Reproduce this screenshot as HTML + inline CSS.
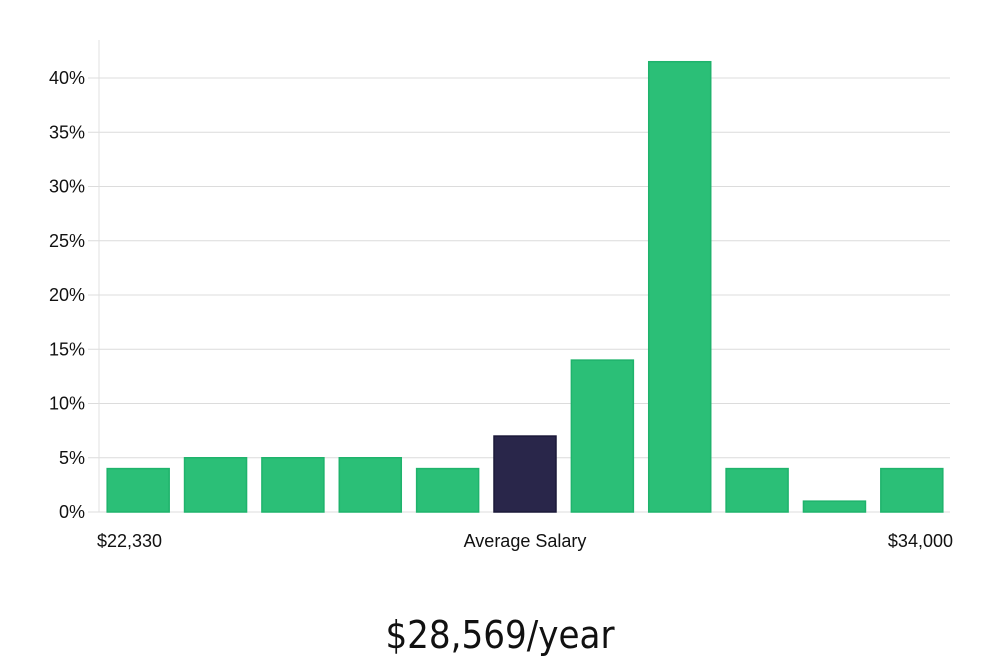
<!DOCTYPE html>
<html><head><meta charset="utf-8"><style>
body{margin:0;background:#fff;width:1000px;height:660px;overflow:hidden;font-family:"Liberation Sans","DejaVu Sans",sans-serif}
</style></head><body>
<svg id="chart" width="1000" height="660" xmlns="http://www.w3.org/2000/svg"></svg>
<script>
const categories=["b1","b2","b3","b4","b5","avg","b7","b8","b9","b10","b11"];
const values=[4,5,5,5,4,7,14,41.5,4,1,4];
const highlight=[false,false,false,false,false,true,false,false,false,false,false];
const yTicks=[0,5,10,15,20,25,30,35,40];
const xLabels=["$22,330","Average Salary","$34,000"];
const title="$28,569/year";
const NS="http://www.w3.org/2000/svg";
const svg=document.getElementById('chart');
const x0=99,x1=950,y0=512,pxPer=(512-78)/40;
const y=v=>y0-v*pxPer;
const band=(x1-x0)/categories.length;
function mk(t,a,p){const e=document.createElementNS(NS,t);for(const k in a)e.setAttribute(k,a[k]);(p||svg).appendChild(e);return e;}
yTicks.forEach(t=>{
 const g=mk('line',{x1:88,x2:x1,y1:y(t),y2:y(t),stroke:'#dcdcdc','stroke-width':1});
 
 
 const l=mk('text',{x:85,y:y(t)+6,'text-anchor':'end','font-size':18,fill:'#111'});
 l.textContent=t+'%';
 
 
});
const ax=mk('line',{x1:x0,x2:x0,y1:40,y2:y0,stroke:'#e0e0e0','stroke-width':1});


values.forEach((v,i)=>{
 const bx=x0+i*band+(band-63)/2+1;
 const r=mk('rect',{x:bx,y:y(v),width:62,height:y0-y(v),fill:highlight[i]?'#29264a':'#2bbf77',stroke:highlight[i]?'#1a1838':'#1fb36c','stroke-width':1.5});
 
 
});
const pos=[[97,'start'],[525,'middle'],[953,'end']];
xLabels.forEach((s,i)=>{
 const t=mk('text',{x:pos[i][0],y:547,'text-anchor':pos[i][1],'font-size':18,fill:'#111'});
 t.textContent=s;
 
 
});
const tt=mk('text',{x:500,y:648,'text-anchor':'middle','font-size':38,fill:'#111','font-family':'"DejaVu Sans Condensed","Liberation Sans Narrow",sans-serif','font-weight':'200'});
tt.textContent=title;


</script>
</body></html>
